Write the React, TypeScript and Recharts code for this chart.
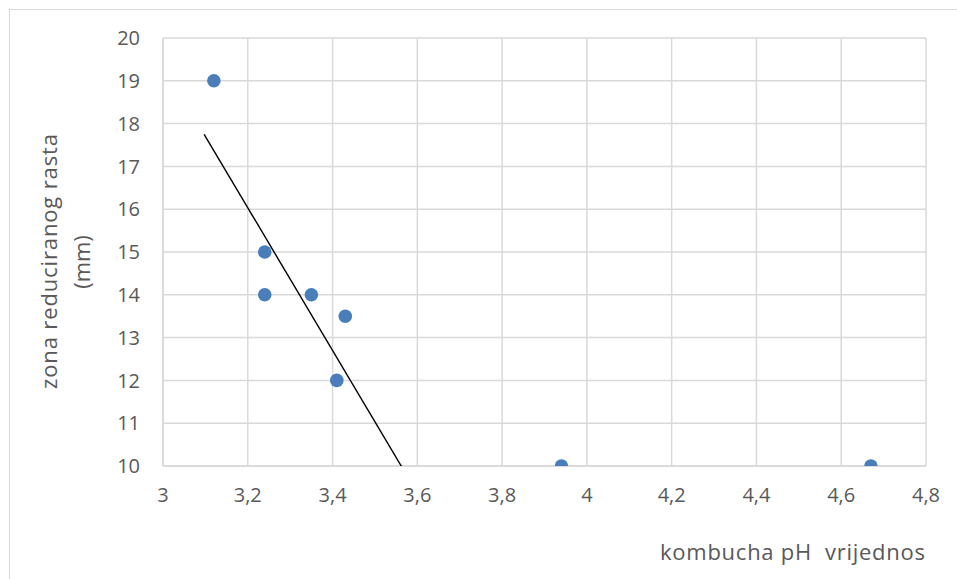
import React from 'react';
import { ScatterChart, Scatter, XAxis, YAxis, CartesianGrid } from 'recharts';

const phValues = [3.12, 3.24, 3.24, 3.35, 3.43, 3.41, 3.94, 4.67];
const zoneValues = [19, 15, 14, 14, 13.5, 12, 10, 10];
const trendX = [3.097, 3.565];
const trendY = [17.75, 9.95];
const xTicks = [3, 3.2, 3.4, 3.6, 3.8, 4, 4.2, 4.4, 4.6, 4.8];
const yTicks = [10, 11, 12, 13, 14, 15, 16, 17, 18, 19, 20];

const points = phValues.map((x, i) => ({ x, y: zoneValues[i] }));
const trend = trendX.map((x, i) => ({ x, y: trendY[i] }));

const FONT = '"Open Sans", sans-serif';
const TXT = '#595959';

const fmt = (v: number) => String(v).replace('.', ',');

const Empty = () => <g />;

export default function App() {
  return (
    <div style={{ position: 'absolute', left: 0, top: 0, width: 957, height: 579, overflow: 'hidden', background: '#fff' }}>
      <div style={{ position: 'absolute', left: 9, top: 9, width: 980, height: 620, border: '1px solid #d9d9d9', boxSizing: 'border-box' }} />
      <div style={{ position: 'absolute', left: 0, top: 0 }}>
        <ScatterChart width={957} height={579} margin={{ top: 38, right: 31, left: 103, bottom: 83 }}>
          <CartesianGrid stroke="#d9d9d9" strokeWidth={1.5} horizontal vertical />
          <XAxis
            type="number"
            dataKey="x"
            domain={[3, 4.8]}
            ticks={xTicks}
            tickFormatter={fmt}
            axisLine={{ stroke: '#d9d9d9', strokeWidth: 1.5 }}
            tickLine={false}
            tickSize={6}
            tickMargin={16}
            height={30}
            tick={{ fill: TXT, fontSize: 20, fontFamily: FONT }}
            allowDataOverflow
          />
          <YAxis
            type="number"
            dataKey="y"
            domain={[10, 20]}
            ticks={yTicks}
            axisLine={{ stroke: '#d9d9d9', strokeWidth: 1.5 }}
            tickLine={false}
            tickSize={6}
            tickMargin={17}
            width={60}
            tick={{ fill: TXT, fontSize: 20, fontFamily: FONT }}
            allowDataOverflow
          />
          <Scatter
            data={trend}
            isAnimationActive={false}
            line={{ stroke: '#000', strokeWidth: 1.4 }}
            shape={Empty}
          />
          <Scatter data={points} isAnimationActive={false} fill="#4a7ebb" shape={(p: any) => <circle cx={p.cx} cy={p.cy} r={6.8} fill="#4a7ebb" />} />
        </ScatterChart>
        <svg width={957} height={579} style={{ position: 'absolute', left: 0, top: 0, pointerEvents: 'none' }}>
          <g transform="translate(48,262) rotate(-90)">
            <text x={-127} y={0} textLength={255} lengthAdjust="spacing" dominantBaseline="central" fill={TXT} fontSize={22} fontFamily={FONT}>zona reduciranog rasta</text>
          </g>
          <g transform="translate(81,262) rotate(-90)">
            <text x={0} y={0} textAnchor="middle" dominantBaseline="central" fill={TXT} fontSize={22} fontFamily={FONT}>(mm)</text>
          </g>
          <text x={660} y={551} textLength={265} lengthAdjust="spacing" dominantBaseline="central" fill={TXT} fontSize={22} fontFamily={FONT} style={{ whiteSpace: 'pre' }}>{'kombucha pH  vrijednos'}</text>
        </svg>
      </div>
    </div>
  );
}
